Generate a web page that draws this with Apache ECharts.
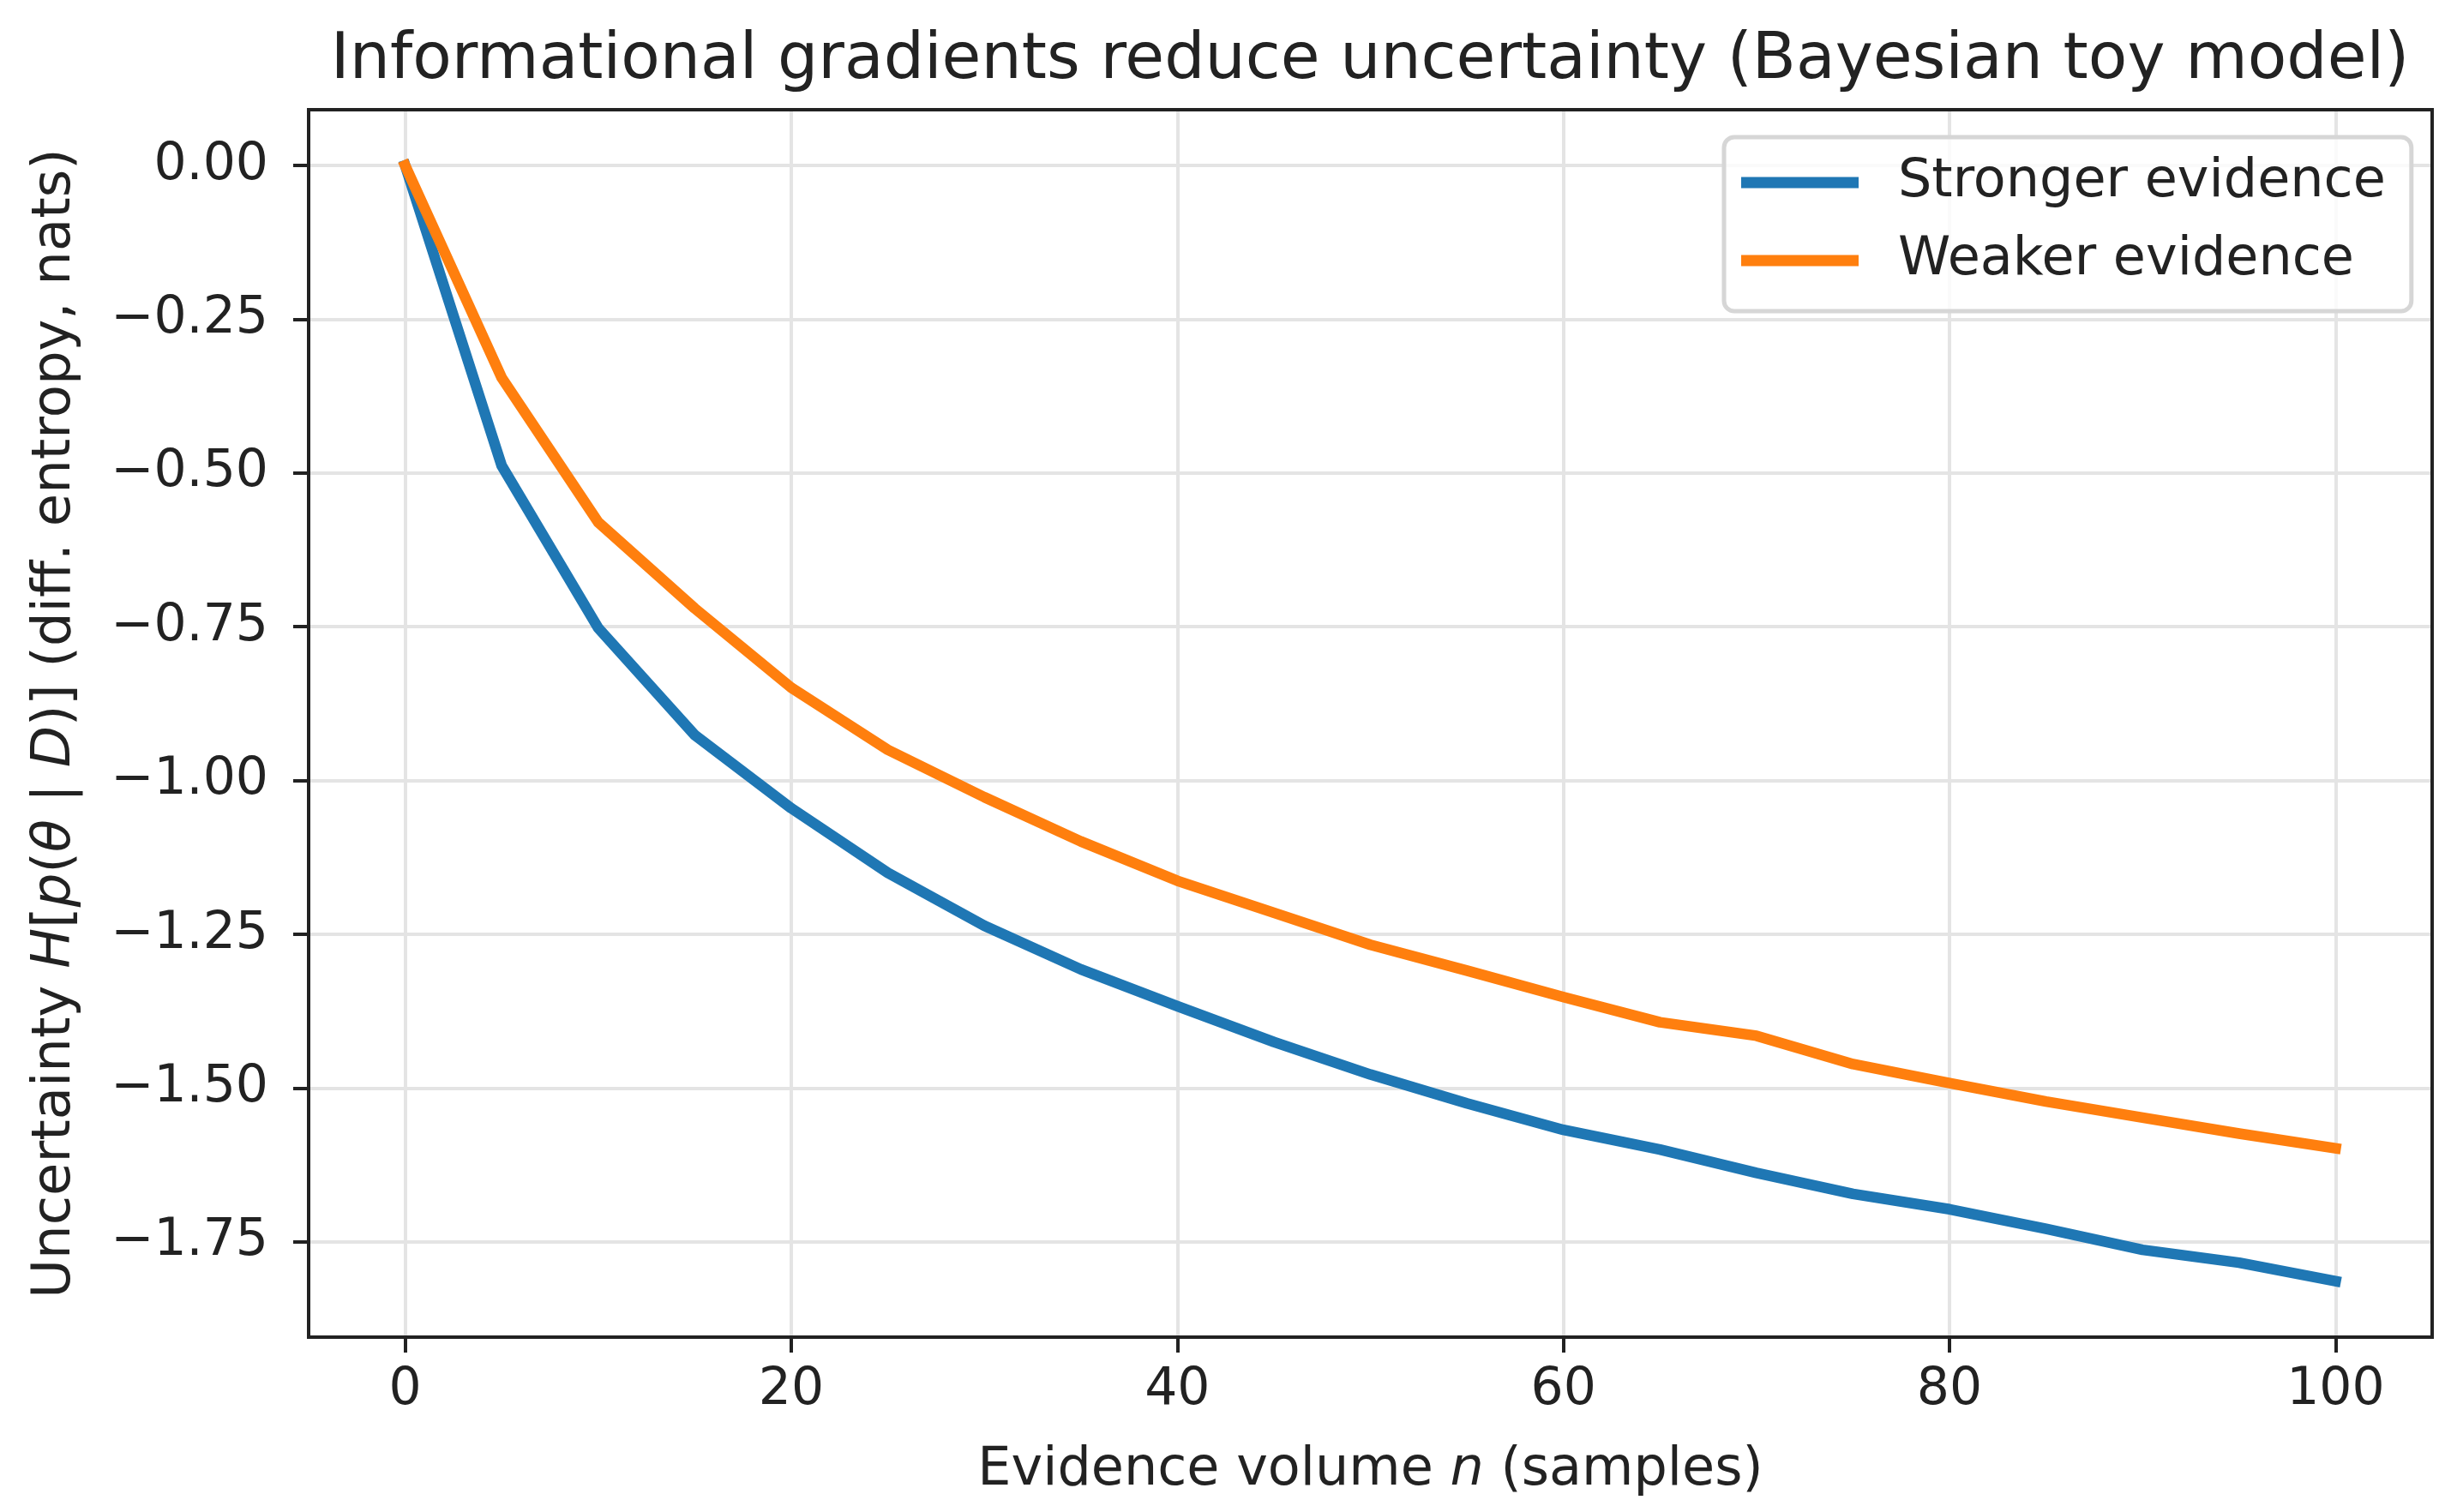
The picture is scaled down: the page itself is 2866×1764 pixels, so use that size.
<!DOCTYPE html>
<html>
<head>
<meta charset="utf-8">
<script src="https://cdn.jsdelivr.net/npm/echarts@6/dist/echarts.min.js"></script>
<style>
html,body{margin:0;padding:0;background:#fff;}
#chart{width:2866px;height:1764px;}
</style>
</head>
<body>
<div id="chart"></div>
<script>
const samples = [0,5,10,15,20,25,30,35,40,45,50,55,60,65,70,75,80,85,90,95,100];
const stronger = [0,-0.488,-0.752,-0.926,-1.045,-1.150,-1.236,-1.307,-1.367,-1.425,-1.478,-1.525,-1.568,-1.600,-1.638,-1.672,-1.697,-1.729,-1.763,-1.784,-1.814];
const weaker = [0,-0.345,-0.580,-0.720,-0.849,-0.950,-1.027,-1.099,-1.163,-1.215,-1.267,-1.309,-1.352,-1.393,-1.415,-1.461,-1.492,-1.522,-1.548,-1.574,-1.598];
const xTicks = [0,20,40,60,80,100];
const yTicks = [0,-0.25,-0.5,-0.75,-1.0,-1.25,-1.5,-1.75];
const seriesNames = ['Stronger evidence','Weaker evidence'];

const FONT = 'DejaVu Sans';
const TXT = '#222222';
const chart = echarts.init(document.getElementById('chart'), null, {renderer:'canvas'});
const pair = (xs, ys) => xs.map((x,i)=>[x, ys[i]]);

const option = {
  backgroundColor:'#ffffff',
  animation:false,
  title:{
    text:'Informational gradients reduce uncertainty (Bayesian toy model)',
    left:1598, top:34, textAlign:'center', padding:0,
    textStyle:{fontFamily:FONT, fontSize:74.5, fontWeight:'normal', color:TXT}
  },
  legend:{
    orient:'vertical', left:2011, top:160,
    padding:[22,30,28,20],
    itemWidth:137, itemHeight:13, itemGap:29,
    icon:'rect',
    backgroundColor:'rgba(255,255,255,0.8)',
    borderColor:'#d6d6d6', borderWidth:5, borderRadius:12,
    textStyle:{fontFamily:FONT, fontSize:62, color:TXT, lineHeight:62, padding:[0,0,0,41]},
    data:seriesNames
  },
  grid:{left:360, right:29, top:128, bottom:204, containLabel:false},
  xAxis:{
    type:'value', min:-5, max:105,
    name:'Evidence volume {i|n} (samples)',
    nameLocation:'middle', nameGap:125,
    nameTextStyle:{fontFamily:FONT, fontSize:62, color:TXT,
      rich:{i:{fontFamily:FONT, fontSize:62, fontStyle:'italic', color:TXT}}},
    axisLine:{show:true, onZero:false, lineStyle:{color:TXT, width:4}},
    axisTick:{show:true, length:18, lineStyle:{color:TXT, width:4}, customValues:xTicks},
    axisLabel:{fontFamily:FONT, fontSize:60, color:TXT, margin:32, customValues:xTicks},
    splitLine:{show:true, lineStyle:{color:'#e4e4e4', width:4}}
  },
  yAxis:{
    type:'value', min:-1.905, max:0.0907,
    name:'Uncertainty {i|H}[{i|p}({i|θ} | {i|D})] (diff. entropy, nats)',
    nameLocation:'middle', nameGap:264, nameRotate:90,
    nameTextStyle:{fontFamily:FONT, fontSize:62.5, color:TXT,
      rich:{i:{fontFamily:FONT, fontSize:62.5, fontStyle:'italic', color:TXT}}},
    axisLine:{show:true, onZero:false, lineStyle:{color:TXT, width:4}},
    axisTick:{show:true, length:18, lineStyle:{color:TXT, width:4}, customValues:yTicks},
    axisLabel:{fontFamily:FONT, fontSize:60, color:TXT, margin:47, customValues:yTicks,
      formatter:v => (v < 0 ? '\u2212' : '') + Math.abs(v).toFixed(2)},
    splitLine:{show:true, lineStyle:{color:'#e4e4e4', width:4}}
  },
  series:[
    {name:seriesNames[0], type:'line', data:pair(samples, stronger), symbol:'none', showSymbol:false,
     color:'#1f77b4', lineStyle:{width:12.5, color:'#1f77b4', cap:'square', join:'round'}, z:3},
    {name:seriesNames[1], type:'line', data:pair(samples, weaker), symbol:'none', showSymbol:false,
     color:'#ff7f0e', lineStyle:{width:12.5, color:'#ff7f0e', cap:'square', join:'round'}, z:4}
  ]
};
chart.setOption(option);
// right and top spines
chart.setOption({
  graphic:[{
    type:'rect', silent:true, z:10,
    shape:{x:360, y:128, width:2866-29-360, height:1764-204-128},
    style:{fill:null, stroke:TXT, lineWidth:4}
  }]
});
</script>
</body>
</html>
